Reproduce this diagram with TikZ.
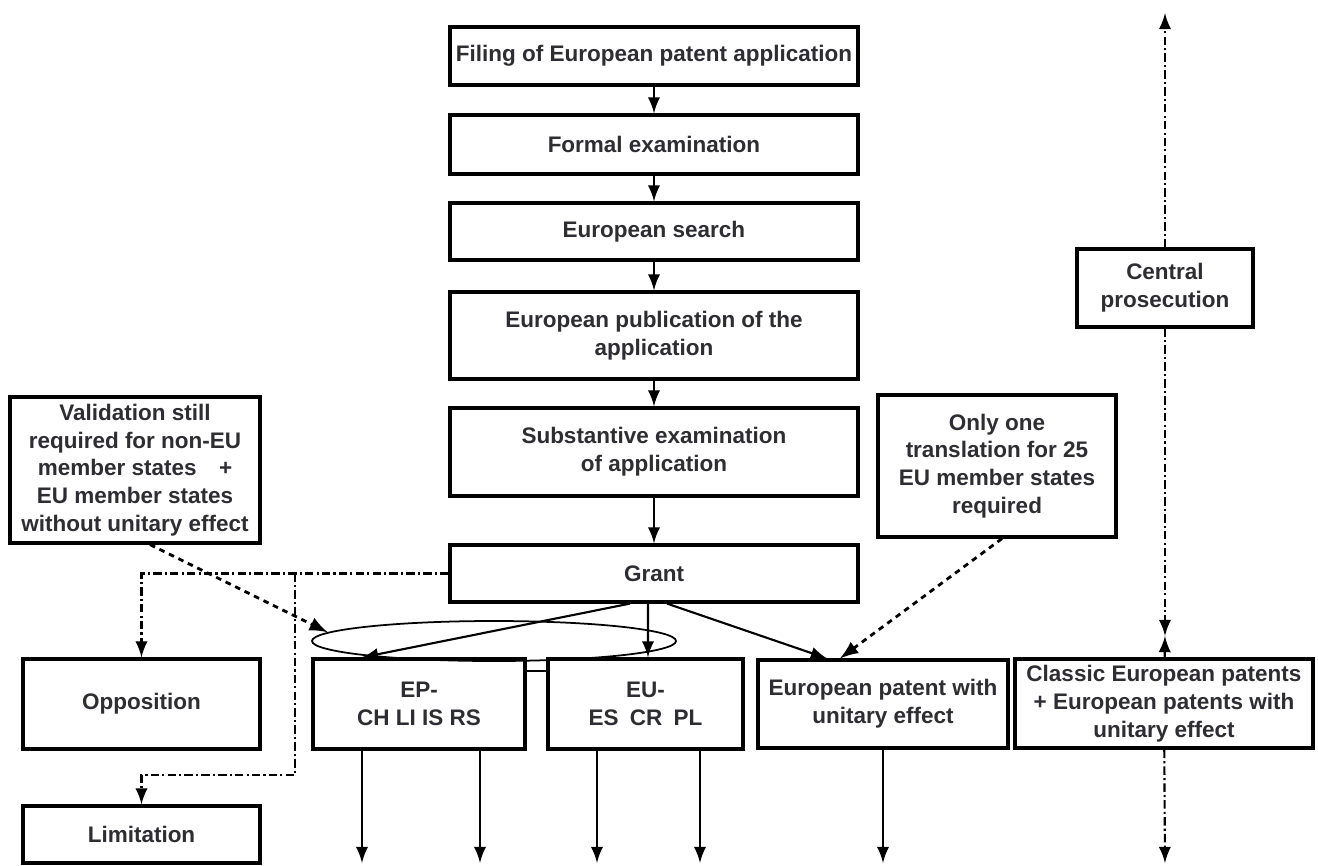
\documentclass[tikz,border=0pt]{standalone}
\usepackage{fontspec}
\setmainfont{Liberation Sans}
\usetikzlibrary{arrows,shapes.geometric,calc}
\definecolor{txt_grey}{RGB}{45, 45, 50}
\newcommand{\boxfont}{\fontsize{6.4}{7.9}\selectfont\bfseries}
\tikzstyle{pbox}=[rectangle,draw=black,line width=0.9pt,inner sep=1pt,
  align=center,text=txt_grey,font=\boxfont]
\tikzstyle{main}=[pbox,minimum width=4.08cm]
\tikzstyle{ring}=[ellipse,draw=black,line width=0.5pt,inner sep=0pt,
  minimum width=3.64cm,minimum height=0.40cm]
\tikzstyle{none}=[]
\tikzstyle{flow}=[->,>=latex,line width=0.6pt]
\tikzstyle{hint}=[->,>=latex,line width=0.8pt,dash pattern=on 1.6pt off 1.4pt]
\tikzstyle{route}=[->,>=latex,line width=0.6pt,
  dash pattern=on 2.4pt off 0.9pt on 0.6pt off 0.9pt]

\begin{document}
\begin{tikzpicture}
            \useasboundingbox (0, 0) rectangle (13.18, -8.65);
            \node [style=main, minimum height=0.58cm] (0) at (6.54, -0.56) {Filing of European patent application};
            \node [style=main, minimum height=0.59cm] (1) at (6.54, -1.445) {Formal examination};
            \node [style=main, minimum height=0.57cm] (2) at (6.54, -2.315) {European search};
            \node [style=main, minimum height=0.87cm] (3) at (6.54, -3.355) {European publication of the\\application};
            \node [style=main, minimum height=0.88cm] (4) at (6.54, -4.52) {Substantive examination\\of application};
            \node [style=main, minimum height=0.57cm] (5) at (6.54, -5.735) {Grant};
            \node [style=pbox, minimum width=2.50cm, minimum height=1.46cm] (6) at (1.35, -4.70) {Validation still\\required for non-EU\\member states\quad+\\EU member states\\without unitary effect};
            \node [style=pbox, minimum width=2.38cm, minimum height=1.42cm] (7) at (9.97, -4.66) {Only one\\translation for 25\\EU member states\\required};
            \node [style=pbox, minimum width=1.76cm, minimum height=0.78cm] (8) at (11.65, -2.88) {Central\\prosecution};
            \node [style=pbox, minimum width=2.37cm, minimum height=0.90cm] (9) at (1.415, -7.04) {Opposition};
            \node [style=pbox, minimum width=2.37cm, minimum height=0.57cm] (10) at (1.415, -8.345) {Limitation};
            \node [style=pbox, minimum width=2.12cm, minimum height=0.90cm] (11) at (4.19, -7.04) {EP-\\CH LI IS RS};
            \node [style=pbox, minimum width=1.95cm, minimum height=0.90cm] (12) at (6.455, -7.04) {EU-\\ES\enspace CR\enspace PL};
            \node [style=pbox, minimum width=2.50cm, minimum height=0.88cm] (13) at (8.83, -7.04) {European patent with\\unitary effect};
            \node [style=pbox, minimum width=2.98cm, minimum height=0.89cm] (14) at (11.64, -7.035) {Classic European patents\\+ European patents with\\unitary effect};
            \node [style=ring] (15) at (4.94, -6.41) {};
            \node [style=none] (16) at (11.65, -0.13) {};
            \node [style=none] (17) at (11.65, -6.36) {};
            \node [style=none] (18) at (11.65, -8.63) {};
            \node [style=none] (19) at (3.62, -8.63) {};
            \node [style=none] (20) at (4.80, -8.63) {};
            \node [style=none] (21) at (5.97, -8.63) {};
            \node [style=none] (22) at (7.00, -8.63) {};
            \node [style=none] (23) at (8.83, -8.63) {};
            \node [style=none] (24) at (2.95, -5.735) {};
            \node [style=none] (25) at (2.95, -7.75) {};
            \draw [style=flow] (0) to (1);
            \draw [style=flow] (1) to (2);
            \draw [style=flow] (2) to (3);
            \draw [style=flow] (3) to (4);
            \draw [style=flow] (4) to (5);
            \draw [style=flow] ([xshift=-0.24cm]5.south) to (11.north -| 19.center);
            \draw [style=flow] ([xshift=-0.06cm]5.south) to ([xshift=0.025cm]12.north);
            \draw [style=flow] ([xshift=0.13cm]5.south) to ([xshift=-0.56cm]13.north);
            \draw [line width=0.6pt] ([yshift=0.33cm]11.east) to ([yshift=0.33cm]12.west);
            \draw [style=hint] ([xshift=0.05cm]7.south) to ([xshift=-0.43cm]13.north);
            \draw [style=hint] ([xshift=0.15cm]6.south) to (15.177);
            \draw [style=route] (5.west) -| (9.north);
            \draw [style=route] (24.center) to (25.center) -| (10.north);
            \draw [style=route] (8) to (16.center);
            \draw [style=route] (8) to (17.center);
            \draw [style=route] (14) to (17.center);
            \draw [style=route] (14) to (18.center);
            \draw [style=flow] (11.south -| 19.center) to (19.center);
            \draw [style=flow] (11.south -| 20.center) to (20.center);
            \draw [style=flow] (12.south -| 21.center) to (21.center);
            \draw [style=flow] (12.south -| 22.center) to (22.center);
            \draw [style=flow] (13.south -| 23.center) to (23.center);
    \end{tikzpicture}
\end{document}
